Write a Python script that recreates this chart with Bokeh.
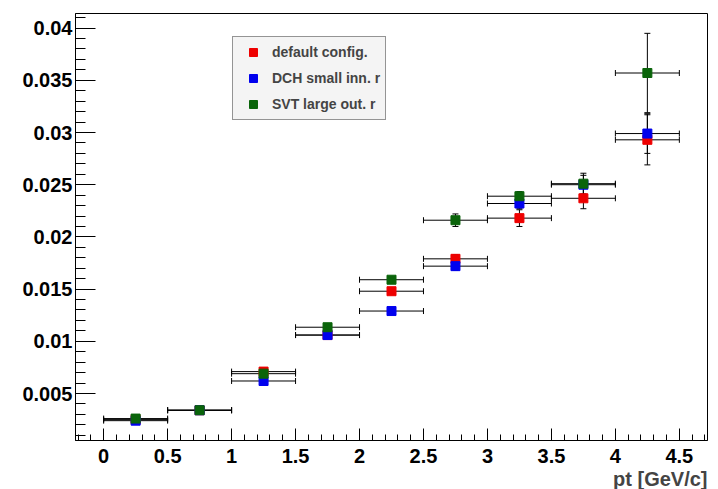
from bokeh.plotting import figure
from bokeh.models import (Whisker, ColumnDataSource, FixedTicker, Legend, LegendItem,
                          TeeHead, Title, Range1d)
from bokeh.embed import file_html
from bokeh.resources import INLINE

# ---- data ----
pt = [0.25, 0.75, 1.25, 1.75, 2.25, 2.75, 3.25, 3.75, 4.25]
pt_err = [0.25, 0.25, 0.25, 0.25, 0.25, 0.25, 0.25, 0.25, 0.25]

default_cfg = [0.0025, 0.0034, 0.0071, 0.0106, 0.0148, 0.0179, 0.0218, 0.0237, 0.0293]
default_err = [0.0001, 0.0001, 0.0002, 0.0002, 0.0003, 0.0004, 0.0008, 0.0010, 0.0024]

dch_small = [0.0024, 0.0034, 0.0062, 0.0106, 0.0129, 0.0172, 0.0232, 0.0250, 0.0299]
dch_err = [0.0001, 0.0001, 0.0002, 0.0002, 0.0003, 0.0004, 0.0005, 0.0009, 0.0019]

svt_large = [0.0026, 0.0034, 0.0069, 0.01135, 0.0159, 0.0216, 0.0239, 0.0251, 0.0357]
svt_err = [0.0001, 0.0001, 0.0002, 0.0002, 0.0003, 0.0006, 0.00045, 0.0010, 0.0038]

series_names = ["default config.", "DCH small inn. r", "SVT large out. r"]
series_colors = ["#ee0000", "#0000ee", "#0a640a"]

x_ticks = [0, 0.5, 1, 1.5, 2, 2.5, 3, 3.5, 4, 4.5]
x_tick_labels = ["0", "0.5", "1", "1.5", "2", "2.5", "3", "3.5", "4", "4.5"]
y_ticks = [0.005, 0.01, 0.015, 0.02, 0.025, 0.03, 0.035, 0.04]
y_tick_labels = ["0.005", "0.01", "0.015", "0.02", "0.025", "0.03", "0.035", "0.04"]

FONT = "Liberation Sans"

p = figure(width=710, height=489, output_backend="svg", toolbar_location=None,
           x_range=Range1d(-0.22, 4.72), y_range=Range1d(0.0005, 0.0414),
           min_border_left=75, min_border_right=3, min_border_top=13, min_border_bottom=49)
p.xgrid.visible = False
p.ygrid.visible = False
p.outline_line_color = "black"
p.outline_line_width = 1
p.background_fill_color = "white"

# axes styling (ROOT-like: ticks inside)
p.xaxis.ticker = FixedTicker(ticks=x_ticks,
                             minor_ticks=[round(-0.2 + 0.1 * i, 2) for i in range(50)])
p.yaxis.ticker = FixedTicker(ticks=y_ticks,
                             minor_ticks=[round(0.001 * i, 3) for i in range(1, 42)])
p.xaxis.major_label_overrides = dict(zip(x_ticks, x_tick_labels))
p.yaxis.major_label_overrides = dict(zip(y_ticks, y_tick_labels))

for ax in (p.xaxis[0], p.yaxis[0]):
    ax.major_tick_out = 0
    ax.minor_tick_out = 0
    ax.axis_line_color = "black"
    ax.major_tick_line_color = "black"
    ax.minor_tick_line_color = "black"
    ax.major_label_text_font = FONT
    ax.major_label_text_font_style = "bold"
    ax.major_label_text_font_size = "20px"
    ax.major_label_text_color = "black"
p.xaxis.major_tick_in = 12
p.xaxis.minor_tick_in = 6
p.yaxis.major_tick_in = 20
p.yaxis.minor_tick_in = 10
p.xaxis.major_label_standoff = 8
p.yaxis.major_label_standoff = 3

renderers = []
for y, e, color in zip([default_cfg, dch_small, svt_large],
                       [default_err, dch_err, svt_err], series_colors):
    src = ColumnDataSource(dict(
        x=pt, y=y,
        xl=[a - b for a, b in zip(pt, pt_err)], xu=[a + b for a, b in zip(pt, pt_err)],
        yl=[a - b for a, b in zip(y, e)], yu=[a + b for a, b in zip(y, e)],
    ))
    wx = Whisker(source=src, base="y", lower="xl", upper="xu", dimension="width",
                 line_color="black", line_width=1,
                 upper_head=TeeHead(size=6, line_color="black", line_width=1),
                 lower_head=TeeHead(size=6, line_color="black", line_width=1))
    wy = Whisker(source=src, base="x", lower="yl", upper="yu", dimension="height",
                 line_color="black", line_width=1,
                 upper_head=TeeHead(size=6, line_color="black", line_width=1),
                 lower_head=TeeHead(size=6, line_color="black", line_width=1))
    p.add_layout(wx)
    p.add_layout(wy)
    r = p.scatter("x", "y", source=src, marker="square", size=9,
                  fill_color=color, line_color=color)
    renderers.append(r)

legend = Legend(items=[LegendItem(label=n, renderers=[r]) for n, r in zip(series_names, renderers)],
                location=(157, 320), padding=5, margin=0, glyph_width=30, glyph_height=20,
                spacing=6, label_standoff=4, label_text_font=FONT,
                label_text_font_style="bold", label_text_font_size="14px",
                background_fill_color="#f4f4f4", background_fill_alpha=1,
                border_line_color="#333333", border_line_width=1)
p.add_layout(legend)

xtitle = Title(text="pt [GeV/c]", align="right", text_font=FONT, text_font_style="bold",
               text_font_size="20px", standoff=0, offset=0)
p.add_layout(xtitle, "below")

open("out.html", "w").write(file_html(p, INLINE))
